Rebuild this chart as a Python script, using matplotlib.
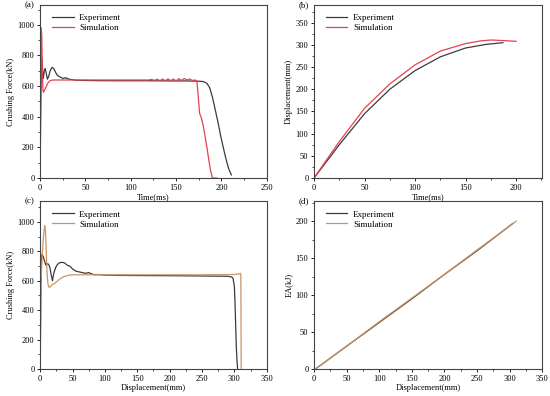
import matplotlib
matplotlib.use("Agg")
import matplotlib.pyplot as plt
from matplotlib.ticker import AutoMinorLocator

plt.rcParams['font.family'] = ['Liberation Serif', 'DejaVu Serif']
plt.rcParams['font.size'] = 6

EXP_COLOR = '#3b3b3b'
SIM_RED = '#e8404e'
SIM_TAN = '#c99466'

# (a) crushing force vs time
t_exp_a = [0, 0.5, 1.2, 2.0, 2.8, 3.5, 4.5, 5.5, 6.5, 8, 9.5, 11, 13, 15, 17, 19, 22, 25,
           28, 32, 36, 40, 50, 60, 80, 100, 120, 140, 160, 175, 180, 184, 187, 190,
           193, 196, 199, 202, 205, 208, 211]
f_exp_a = [0, 400, 700, 780, 690, 650, 700, 715, 690, 645, 665, 700, 722, 715, 690, 670,
           660, 650, 655, 645, 642, 638, 637, 636, 635, 635, 635, 634, 634, 632, 630, 618,
           590, 530, 450, 370, 280, 200, 125, 60, 20]
t_sim_a = [0, 0.6, 1.2, 1.8, 2.4, 3.0, 3.6, 4.2, 5, 6, 7, 8, 10, 12, 15, 20, 30, 50, 80,
           100, 120, 123, 126, 129, 132, 135, 138, 141, 144, 147, 150, 153, 156, 159, 162,
           165, 168, 171, 173, 174, 176, 178, 180, 182, 184, 186, 188, 190, 195]
f_sim_a = [0, 500, 980, 930, 700, 580, 560, 565, 575, 590, 600, 615, 630, 638, 640, 640,
           640, 640, 640, 640, 640, 644, 637, 645, 636, 646, 635, 647, 636, 646, 634, 648,
           637, 650, 640, 646, 637, 640, 632, 560, 420, 390, 340, 270, 200, 120, 50, 0, 0]

# (b) displacement vs time
t_exp_b = [0, 10, 25, 50, 75, 100, 125, 150, 170, 187]
d_exp_b = [0, 30, 75, 145, 200, 242, 273, 293, 301, 305]
t_sim_b = [0, 10, 25, 50, 75, 100, 125, 150, 165, 175, 185, 200]
d_sim_b = [0, 33, 82, 157, 212, 255, 286, 303, 309, 311, 310, 308]

# (c) crushing force vs displacement
x_exp_c = [0, 1, 2, 3, 5, 7, 9, 11, 13, 15, 17, 19, 21, 24, 27, 30, 34, 38, 42, 46, 50,
           55, 60, 65, 70, 75, 80, 85, 90, 100, 120, 150, 200, 250, 290, 296, 298, 300,
           301, 302, 303, 304, 305]
f_exp_c = [0, 500, 760, 780, 760, 730, 705, 715, 712, 690, 640, 600, 650, 690, 712, 722,
           725, 720, 705, 698, 680, 665, 660, 655, 650, 655, 645, 640, 642, 638, 636, 635,
           634, 632, 630, 625, 615, 560, 450, 300, 150, 60, 0]
x_sim_c = [0, 1.5, 3, 4.5, 6, 7, 8, 9, 10, 11, 12, 13, 14, 16, 19, 22, 26, 30, 35, 42, 50,
           80, 150, 250, 300, 305, 308, 309, 310, 310.5]
f_sim_c = [0, 600, 760, 860, 940, 975, 950, 860, 720, 630, 580, 560, 555, 560, 575, 580,
           595, 610, 625, 635, 640, 640, 640, 640, 642, 645, 648, 650, 640, 0]

# (d) energy absorption vs displacement
x_exp_d = [2, 50, 100, 150, 200, 250, 305]
ea_exp_d = [0, 31, 63, 95, 128, 160, 197]
x_sim_d = [2, 50, 100, 150, 200, 250, 310]
ea_sim_d = [0, 31, 64, 96, 128, 161, 200]

fig = plt.figure(figsize=(5.5, 3.96), dpi=100)

rects = [[0.073, 0.5505, 0.412, 0.437],
         [0.571, 0.5505, 0.415, 0.437],
         [0.073, 0.068, 0.412, 0.424],
         [0.571, 0.068, 0.415, 0.424]]
axes = [fig.add_axes(r) for r in rects]
ax_a, ax_b, ax_c, ax_d = axes

ax_a.plot(t_exp_a, f_exp_a, color=EXP_COLOR, lw=0.9, label='Experiment')
ax_a.plot(t_sim_a, f_sim_a, color=SIM_RED, lw=0.9, label='Simulation')
ax_a.set_xlim(0, 250)
ax_a.set_ylim(0, 1130)
ax_a.set_xticks([0, 50, 100, 150, 200, 250])
ax_a.set_yticks([0, 200, 400, 600, 800, 1000])
ax_a.set_xlabel('Time(ms)')
ax_a.set_ylabel('Crushing Force(kN)')

ax_b.plot(t_exp_b, d_exp_b, color=EXP_COLOR, lw=0.9, label='Experiment')
ax_b.plot(t_sim_b, d_sim_b, color=SIM_RED, lw=0.9, label='Simulation')
ax_b.set_xlim(0, 226)
ax_b.set_ylim(0, 390)
ax_b.set_xticks([0, 50, 100, 150, 200])
ax_b.set_yticks([0, 50, 100, 150, 200, 250, 300, 350])
ax_b.set_xlabel('Time(ms)')
ax_b.set_ylabel('Displacement(mm)')

ax_c.plot(x_exp_c, f_exp_c, color=EXP_COLOR, lw=0.9, label='Experiment')
ax_c.plot(x_sim_c, f_sim_c, color=SIM_TAN, lw=0.9, label='Simulation')
ax_c.set_xlim(0, 350)
ax_c.set_ylim(0, 1140)
ax_c.set_xticks([0, 50, 100, 150, 200, 250, 300, 350])
ax_c.set_yticks([0, 200, 400, 600, 800, 1000])
ax_c.set_xlabel('Displacement(mm)')
ax_c.set_ylabel('Crushing Force(kN)')

ax_d.plot(x_exp_d, ea_exp_d, color=EXP_COLOR, lw=0.9, label='Experiment')
ax_d.plot(x_sim_d, ea_sim_d, color=SIM_TAN, lw=0.9, label='Simulation')
ax_d.set_xlim(0, 350)
ax_d.set_ylim(0, 227)
ax_d.set_xticks([0, 50, 100, 150, 200, 250, 300, 350])
ax_d.set_yticks([0, 50, 100, 150, 200])
ax_d.set_xlabel('Displacement(mm)')
ax_d.set_ylabel('EA(kJ)')

for ax, tag in zip(axes, ['(a)', '(b)', '(c)', '(d)']):
    ax.xaxis.set_minor_locator(AutoMinorLocator(2))
    ax.yaxis.set_minor_locator(AutoMinorLocator(2))
    ax.tick_params(which='major', direction='out', length=2.5, width=0.6, pad=1.5, labelsize=6)
    ax.tick_params(which='minor', direction='out', length=1.5, width=0.5)
    for s in ax.spines.values():
        s.set_linewidth(0.8)
        s.set_color('#444444')
    ax.xaxis.labelpad = 1
    ax.yaxis.labelpad = 2
    ax.legend(loc='upper left', frameon=False, fontsize=6.5, handlelength=2.4,
              handletextpad=0.6, labelspacing=0.2, borderaxespad=0.6,
              bbox_to_anchor=(0.012, 1.0))
    ax.text(-0.068, 1.0, tag, transform=ax.transAxes, fontsize=6.5,
            va='center', ha='left')

fig.savefig('out.png', dpi=100)
